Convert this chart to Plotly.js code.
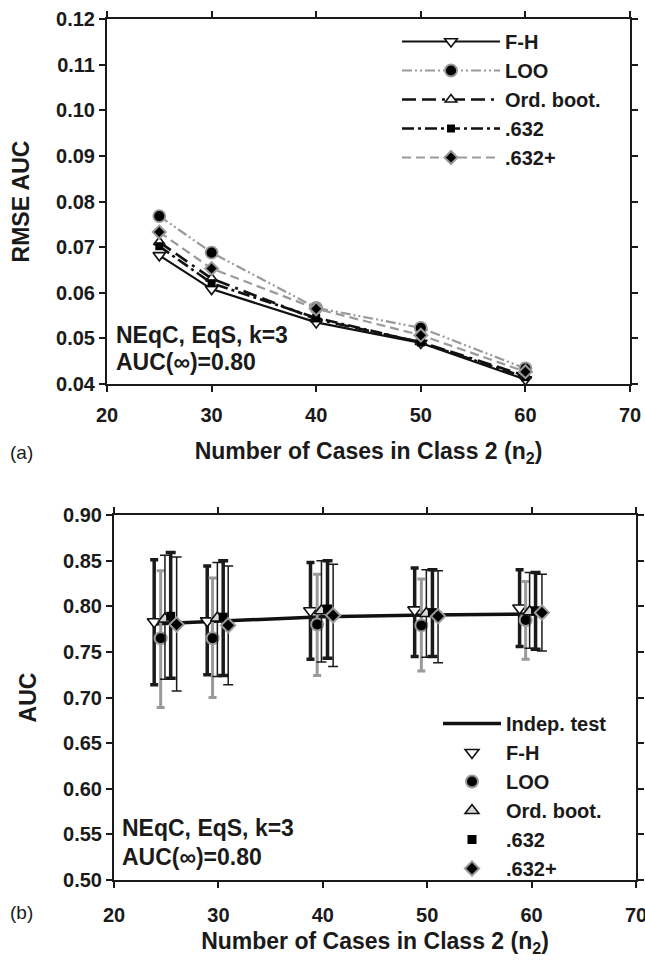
<!DOCTYPE html>
<html>
<head>
<meta charset="utf-8">
<script src="https://cdn.plot.ly/plotly-3.0.1.min.js"></script>
<style>
  html, body { margin: 0; padding: 0; background: #ffffff; }
  #chart { width: 645px; height: 963px; }
</style>
</head>
<body>
<div id="chart"></div>
<script>
// ---------- Panel (a): RMSE of AUC ----------
const nCases = [25, 30, 40, 50, 60];
const rmseFH      = [0.0682, 0.0608, 0.0535, 0.0490, 0.0410];
const rmseLOO     = [0.0768, 0.0688, 0.0567, 0.0523, 0.0434];
const rmseOrdBoot = [0.0711, 0.0631, 0.0542, 0.0492, 0.0418];
const rmse632     = [0.0702, 0.0621, 0.0545, 0.0491, 0.0415];
const rmse632p    = [0.0733, 0.0653, 0.0565, 0.0507, 0.0427];

// ---------- Panel (b): mean AUC with error bars ----------
const indepX = [23.8, 30, 40, 50, 61];
const indepAUC = [0.7805, 0.7838, 0.7885, 0.7904, 0.7914];

const fhX  = [23.85, 28.93, 38.82, 48.8, 58.85];
const fhAUC = [0.783, 0.784, 0.795, 0.796, 0.798];
const fhHi  = [0.851, 0.844, 0.848, 0.842, 0.840];
const fhLo  = [0.714, 0.725, 0.742, 0.745, 0.756];

const looX  = [24.47, 29.44, 39.46, 49.44, 59.43];
const looAUC = [0.765, 0.765, 0.780, 0.779, 0.785];
const looHi  = [0.839, 0.831, 0.835, 0.830, 0.827];
const looLo  = [0.689, 0.700, 0.724, 0.729, 0.742];

const obX  = [24.88, 29.9, 39.87, 49.92, 59.81];
const obAUC = [0.786, 0.787, 0.795, 0.792, 0.794];
const obHi  = [0.856, 0.848, 0.850, 0.840, 0.837];
const obLo  = [0.720, 0.723, 0.739, 0.744, 0.754];

const e632X  = [25.43, 30.46, 40.45, 50.5, 60.38];
const e632AUC = [0.789, 0.788, 0.797, 0.793, 0.795];
const e632Hi  = [0.859, 0.850, 0.850, 0.840, 0.837];
const e632Lo  = [0.721, 0.724, 0.743, 0.745, 0.753];

const e632pX  = [26.0, 30.94, 40.99, 51.04, 60.99];
const e632pAUC = [0.780, 0.779, 0.790, 0.789, 0.793];
const e632pHi  = [0.854, 0.844, 0.846, 0.839, 0.835];
const e632pLo  = [0.707, 0.714, 0.734, 0.738, 0.751];

const seriesNames = ['F-H', 'LOO', 'Ord. boot.', '.632', '.632+'];
const xTicks = [20, 30, 40, 50, 60, 70];

const W = 645, H = 963;
const px = v => v / W;
const py = v => 1 - v / H;

const FONT = 'Liberation Sans, Arial, Helvetica, sans-serif';
const GRAY = '#9a9a9a';
const INK = '#1a1a1a';

function upper(y, hi) { return hi.map((h, i) => h - y[i]); }
function lower(y, lo) { return lo.map((l, i) => y[i] - l); }

const traces = [
  // panel (a)
  { x: nCases, y: rmseFH, name: seriesNames[0], mode: 'lines+markers', xaxis: 'x', yaxis: 'y', legend: 'legend',
    line: { color: '#111', width: 2.2 },
    marker: { symbol: 'triangle-down', size: 11, color: '#fff', line: { color: '#111', width: 1.6 } } },
  { x: nCases, y: rmseLOO, name: seriesNames[1], mode: 'lines+markers', xaxis: 'x', yaxis: 'y', legend: 'legend',
    line: { color: GRAY, width: 2.2, dash: '10px,3px,2px,3px,2px,3px' },
    marker: { symbol: 'circle', size: 12, color: '#000', line: { color: GRAY, width: 1.8 } } },
  { x: nCases, y: rmseOrdBoot, name: seriesNames[2], mode: 'lines+markers', xaxis: 'x', yaxis: 'y', legend: 'legend',
    line: { color: '#111', width: 2.6, dash: '14px,6px,14px,6px,3px,6px' },
    marker: { symbol: 'triangle-up', size: 10, color: '#fff', line: { color: '#111', width: 1.6 } } },
  { x: nCases, y: rmse632, name: seriesNames[3], mode: 'lines+markers', xaxis: 'x', yaxis: 'y', legend: 'legend',
    line: { color: '#111', width: 2.6, dash: '12px,4px,3px,4px' },
    marker: { symbol: 'square', size: 8, color: '#000', line: { color: '#000', width: 0 } } },
  { x: nCases, y: rmse632p, name: seriesNames[4], mode: 'lines+markers', xaxis: 'x', yaxis: 'y', legend: 'legend',
    line: { color: GRAY, width: 2.2, dash: '9px,5px' },
    marker: { symbol: 'diamond', size: 10, color: '#000', line: { color: GRAY, width: 2 } } },

  // panel (b)
  { x: indepX, y: indepAUC, name: 'Indep. test', mode: 'lines', xaxis: 'x2', yaxis: 'y2', legend: 'legend2',
    line: { color: '#111', width: 3.5 } },
  { x: fhX, y: fhAUC, name: seriesNames[0], mode: 'markers', xaxis: 'x2', yaxis: 'y2', legend: 'legend2',
    error_y: { type: 'data', symmetric: false, array: upper(fhAUC, fhHi), arrayminus: lower(fhAUC, fhLo), color: INK, thickness: 3.5, width: 4 },
    marker: { symbol: 'triangle-down', size: 12, color: '#fff', line: { color: '#111', width: 1.6 } } },
  { x: looX, y: looAUC, name: seriesNames[1], mode: 'markers', xaxis: 'x2', yaxis: 'y2', legend: 'legend2',
    error_y: { type: 'data', symmetric: false, array: upper(looAUC, looHi), arrayminus: lower(looAUC, looLo), color: GRAY, thickness: 3, width: 4 },
    marker: { symbol: 'circle', size: 12, color: '#000', line: { color: GRAY, width: 2 } } },
  { x: obX, y: obAUC, name: seriesNames[2], mode: 'markers', xaxis: 'x2', yaxis: 'y2', legend: 'legend2',
    error_y: { type: 'data', symmetric: false, array: upper(obAUC, obHi), arrayminus: lower(obAUC, obLo), color: INK, thickness: 1.5, width: 5 },
    marker: { symbol: 'triangle-up', size: 12, color: '#d6d6d6', line: { color: '#111', width: 1.6 } } },
  { x: e632X, y: e632AUC, name: seriesNames[3], mode: 'markers', xaxis: 'x2', yaxis: 'y2', legend: 'legend2',
    error_y: { type: 'data', symmetric: false, array: upper(e632AUC, e632Hi), arrayminus: lower(e632AUC, e632Lo), color: INK, thickness: 3.5, width: 5 },
    marker: { symbol: 'square', size: 9, color: '#000' } },
  { x: e632pX, y: e632pAUC, name: seriesNames[4], mode: 'markers', xaxis: 'x2', yaxis: 'y2', legend: 'legend2',
    error_y: { type: 'data', symmetric: false, array: upper(e632pAUC, e632pHi), arrayminus: lower(e632pAUC, e632pLo), color: INK, thickness: 1.5, width: 5 },
    marker: { symbol: 'diamond', size: 11, color: '#000', line: { color: GRAY, width: 2 } } }
];

const tickFont = { family: FONT, size: 20, color: INK, weight: 700 };
const titleFont = { family: FONT, size: 23, color: INK, weight: 700 };

function axisBase() {
  return {
    showgrid: false, zeroline: false, showline: true, linecolor: INK, linewidth: 2,
    mirror: 'ticks', ticks: 'outside', ticklen: 6, tickwidth: 2, tickcolor: INK,
    tickfont: tickFont, automargin: false, fixedrange: true, ticklabeloverflow: 'allow'
  };
}

const layout = {
  width: W, height: H,
  margin: { l: 0, r: 0, t: 0, b: 0 },
  paper_bgcolor: '#fff', plot_bgcolor: '#fff',
  font: { family: FONT, color: INK },
  showlegend: true,
  xaxis: Object.assign(axisBase(), {
    domain: [px(107), px(630)], anchor: 'y', range: [20, 70], tickvals: xTicks, ticktext: xTicks.map(String),
    ticklabelstandoff: 6,
    title: { text: 'Number of Cases in Class 2 (n<sub>2</sub>)', font: titleFont, standoff: 18 }
  }),
  yaxis: Object.assign(axisBase(), {
    domain: [py(384), py(19)], anchor: 'x', range: [0.04, 0.12], dtick: 0.01, tick0: 0.04, tickformat: '.2f',
    title: { text: 'RMSE AUC', font: titleFont, standoff: 20 }
  }),
  xaxis2: Object.assign(axisBase(), {
    domain: [px(114), px(636)], anchor: 'y2', range: [20, 70], tickvals: xTicks, ticktext: xTicks.map(String),
    ticklabelstandoff: 10,
    title: { text: 'Number of Cases in Class 2 (n<sub>2</sub>)', font: titleFont, standoff: 8 }
  }),
  yaxis2: Object.assign(axisBase(), {
    domain: [py(880), py(515)], anchor: 'x2', range: [0.5, 0.9], dtick: 0.05, tick0: 0.5, tickformat: '.2f',
    title: { text: 'AUC', font: titleFont, standoff: 20 }
  }),
  legend: {
    x: px(397), y: py(22), xanchor: 'left', yanchor: 'top',
    bgcolor: 'rgba(0,0,0,0)', borderwidth: 0, itemwidth: 98,
    font: { family: FONT, size: 20, color: INK, weight: 700 },
    tracegroupgap: 0
  },
  legend2: {
    x: px(438), y: py(704), xanchor: 'left', yanchor: 'top',
    bgcolor: 'rgba(0,0,0,0)', borderwidth: 0, itemwidth: 58,
    font: { family: FONT, size: 20, color: INK, weight: 700 },
    tracegroupgap: 0
  },
  annotations: [
    { xref: 'paper', yref: 'paper', x: px(114), y: py(335), xanchor: 'left', yanchor: 'middle', showarrow: false,
      text: 'NEqC, EqS, k=3', font: { family: FONT, size: 23, color: INK, weight: 700 } },
    { xref: 'paper', yref: 'paper', x: px(114), y: py(362), xanchor: 'left', yanchor: 'middle', showarrow: false,
      text: 'AUC(∞)=0.80', font: { family: FONT, size: 23, color: INK, weight: 700 } },
    { xref: 'paper', yref: 'paper', x: px(120), y: py(828), xanchor: 'left', yanchor: 'middle', showarrow: false,
      text: 'NEqC, EqS, k=3', font: { family: FONT, size: 23, color: INK, weight: 700 } },
    { xref: 'paper', yref: 'paper', x: px(120), y: py(857), xanchor: 'left', yanchor: 'middle', showarrow: false,
      text: 'AUC(∞)=0.80', font: { family: FONT, size: 23, color: INK, weight: 700 } },
    { xref: 'paper', yref: 'paper', x: px(8), y: py(452), xanchor: 'left', yanchor: 'middle', showarrow: false,
      text: '(a)', font: { family: FONT, size: 19, color: INK } },
    { xref: 'paper', yref: 'paper', x: px(8), y: py(912), xanchor: 'left', yanchor: 'middle', showarrow: false,
      text: '(b)', font: { family: FONT, size: 19, color: INK } }
  ]
};

Plotly.newPlot('chart', traces, layout, { displayModeBar: false, staticPlot: true });
</script>
</body>
</html>
